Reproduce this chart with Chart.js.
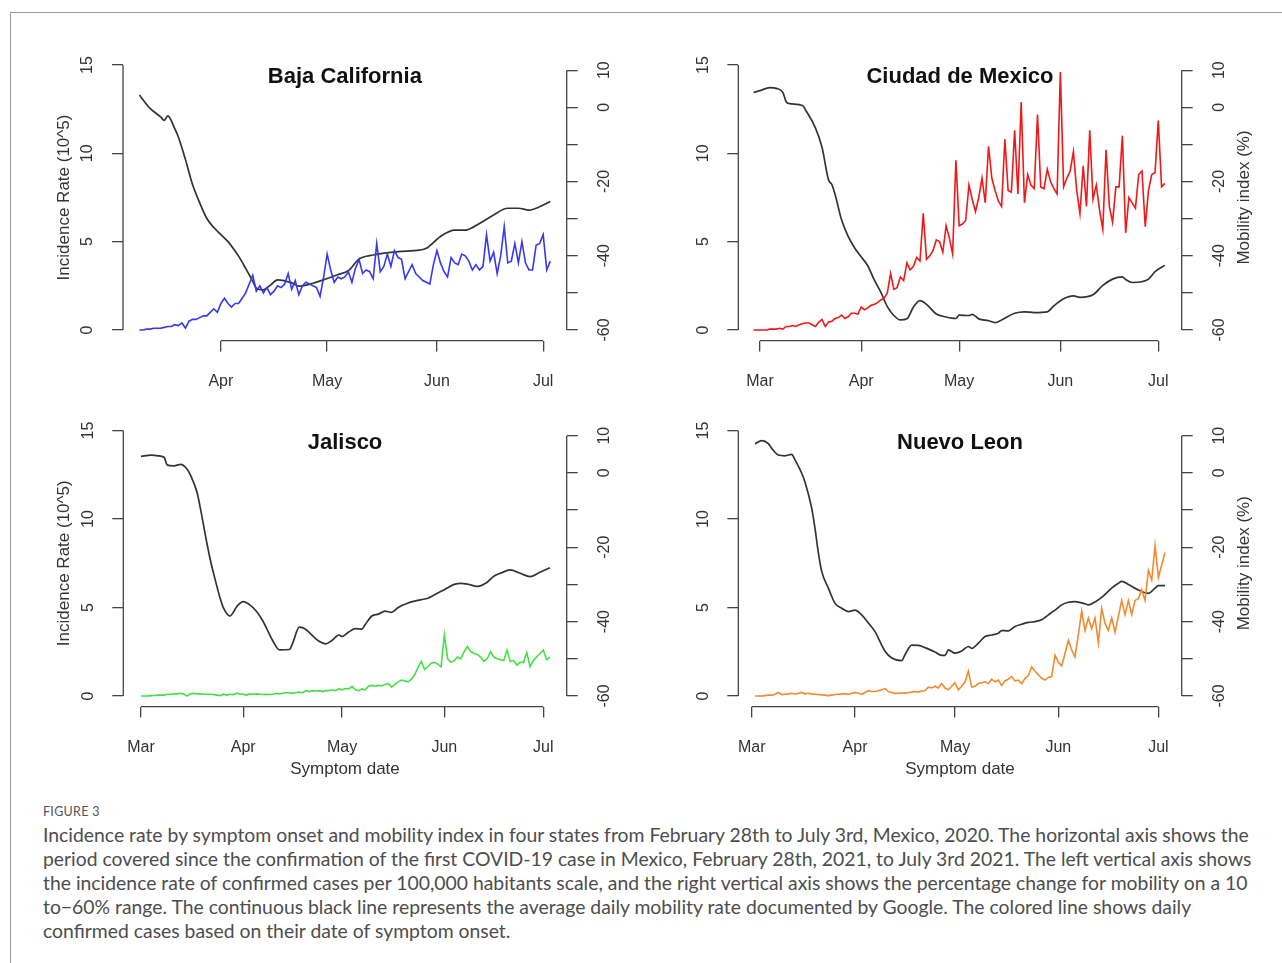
<!DOCTYPE html>
<html>
<head>
<meta charset="utf-8">
<script src="https://cdn.jsdelivr.net/npm/chart.js@4.4.1/dist/chart.umd.min.js"></script>
<style>
  html, body { margin: 0; padding: 0; background: #fff; }
  #page { position: relative; width: 1282px; height: 963px; overflow: hidden; background: #fff; }
  #frame { position: absolute; left: 10px; top: 12px; width: 1300px; height: 990px; border: 1px solid #9a9a9a; }
  canvas { position: absolute; }
  #figlabel { position: absolute; left: 43px; top: 804px; font-family: Lato, "Open Sans", sans-serif;
              font-size: 12.5px; color: #555; letter-spacing: 0.3px; }
  #caption { position: absolute; left: 43px; top: 823px; font-family: Lato, "Open Sans", sans-serif;
             font-size: 16.5px; line-height: 24px; color: #4d4d4d; white-space: nowrap; }
  #caption span { display: inline-block; }
</style>
</head>
<body>
<div id="page">
  <div id="frame"></div>
  <div id="figlabel">FIGURE 3</div>
  <div id="caption">
    <span id="cl1">Incidence rate by symptom onset and mobility index in four states from February 28th to July 3rd, Mexico, 2020. The horizontal axis shows the</span><br>
    <span>period covered since the confirmation of the first COVID-19 case in Mexico, February 28th, 2021, to July 3rd 2021. The left vertical axis shows</span><br>
    <span>the incidence rate of confirmed cases per 100,000 habitants scale, and the right vertical axis shows the percentage change for mobility on a 10</span><br>
    <span>to−60% range. The continuous black line represents the average daily mobility rate documented by Google. The colored line shows daily</span><br>
    <span>confirmed cases based on their date of symptom onset.</span>
  </div>
</div>
<script>
// axis ticks (x = days since 1 March 2020)
const monthTicks = [0, 31, 61, 92, 122];
const monthNames = ['Mar', 'Apr', 'May', 'Jun', 'Jul'];
const incTicks = [0, 5, 10, 15];
const mobTicks = [-60, -50, -40, -30, -20, -10, 0, 10];
const mobLabelTicks = [-60, -40, -20, 0, 10];

// Baja California
const bajaIncStart = 8;
const bajaInc = [
  0.0, 0.0, 0.05, 0.05, 0.1, 0.1, 0.1, 0.15, 0.2, 0.2,
  0.3, 0.25, 0.4, 0.1, 0.5, 0.6, 0.6, 0.7, 0.8, 0.8,
  1.0, 1.2, 1.0, 1.5, 1.8, 1.5, 1.3, 1.5, 1.5, 1.8,
  2.1, 2.6, 3.1, 2.2, 2.5, 2.1, 2.4, 2.0, 2.2, 2.5,
  2.4, 2.6, 3.2, 2.3, 2.8, 2.0, 2.5, 2.7, 2.6, 2.5,
  2.4, 1.9, 3.0, 4.3, 3.4, 2.7, 3.0, 2.9, 3.0, 3.3,
  2.7, 3.5, 4.0, 3.2, 3.4, 3.3, 2.9, 4.9, 3.3, 3.6,
  4.3, 3.6, 4.5, 4.1, 4.0, 2.9, 3.3, 3.7, 3.2, 3.0,
  2.8, 2.7, 2.6, 3.7, 4.5, 3.8, 3.3, 3.0, 4.1, 3.8,
  3.7, 4.3, 4.2, 3.9, 3.4, 3.7, 3.4, 3.6, 5.4, 3.9,
  4.4, 3.2, 4.2, 5.85, 3.8, 3.9, 4.9, 3.8, 5.0, 3.8,
  3.4, 3.4, 4.8, 4.9, 5.4, 3.4, 3.9
];
const bajaMobDays = [8, 11, 14, 15, 16, 18, 19, 21, 23, 25, 27, 29, 31, 33, 35, 36, 38, 40, 41, 43, 45, 47, 51, 53, 57, 60, 64, 67, 70, 74, 81, 87, 89, 93, 97, 100, 104, 108, 112, 115, 118, 121, 124];
const bajaMob = [3.3, -0.3, -2.6, -3.5, -2.3, -5.8, -8.0, -14.1, -20.8, -25.7, -29.9, -32.4, -34.3, -36.2, -38.7, -40.1, -43.4, -46.9, -48.7, -49.2, -47.9, -46.5, -47.3, -48.2, -47.4, -46.5, -45.1, -44.0, -40.9, -39.8, -38.9, -38.5, -38.0, -34.8, -33.1, -33.1, -31.3, -29.0, -27.2, -27.2, -27.7, -26.8, -25.4];

// Ciudad de Mexico
const cdmxIncStart = -2;
const cdmxInc = [
  0, 0, 0, 0, 0, 0.05, 0.05, 0.05, 0.1, 0.05,
  0.2, 0.2, 0.25, 0.2, 0.3, 0.35, 0.4, 0.4, 0.3, 0.2,
  0.45, 0.6, 0.2, 0.45, 0.5, 0.65, 0.7, 0.85, 0.65, 0.75,
  0.95, 0.95, 0.9, 1.3, 1.15, 1.25, 1.4, 1.45, 1.55, 1.7,
  1.8, 2.1, 3.2, 2.3, 2.4, 3.0, 2.8, 3.8, 3.4, 3.6,
  4.1, 3.9, 6.6, 4.0, 4.2, 4.5, 5.1, 5.0, 4.4, 5.9,
  5.2, 4.3, 9.6, 5.9, 6.0, 6.2, 8.2, 7.4, 6.7, 7.5,
  8.6, 7.2, 10.4, 8.6, 7.9, 7.3, 7.0, 10.8, 7.9, 7.8,
  11.3, 7.7, 12.9, 7.2, 8.8, 8.2, 8.0, 12.2, 8.1, 8.0,
  9.1, 8.4, 8.0, 7.7, 14.6, 8.1, 8.6, 9.0, 10.1, 7.9,
  6.6, 9.3, 7.0, 11.3, 7.4, 8.2, 6.8, 5.7, 10.2, 7.0,
  6.1, 8.1, 8.1, 11.0, 5.5, 7.5, 7.2, 6.9, 8.8, 9.0,
  5.85, 7.9, 8.8, 8.9, 11.85, 8.1, 8.3
];
const cdmxMobDays = [-2, 0, 3, 5, 7, 8, 9, 13, 14, 17, 19, 21, 22, 23, 25, 27, 29, 31, 33, 35, 37, 39, 41, 43, 45, 47, 49, 51, 54, 57, 60, 61, 64, 65, 67, 70, 72, 74, 78, 81, 84, 88, 90, 93, 96, 98, 102, 105, 108, 111, 112, 114, 117, 119, 121, 124];
const cdmxMob = [4.0, 4.5, 5.3, 5.1, 4.0, 1.5, 1.0, 0.5, -0.8, -5.6, -10.8, -19.6, -20.8, -23.5, -30.4, -34.8, -37.9, -40.3, -42.7, -46.5, -49.8, -53.7, -56.1, -57.3, -57.0, -53.8, -52.1, -53.1, -55.7, -56.5, -56.9, -56.0, -56.1, -55.8, -57.0, -57.5, -58.0, -57.3, -55.5, -55.1, -55.3, -55.1, -53.5, -51.6, -50.8, -51.2, -50.5, -48.0, -46.3, -45.7, -46.4, -47.2, -47.0, -46.3, -44.3, -42.6];

// Jalisco
const jalIncStart = 0;
const jalInc = [
  0, 0, 0, 0.02, 0.03, 0.05, 0.05, 0.05, 0.1, 0.1,
  0.12, 0.12, 0.15, 0.1, 0.0, 0.12, 0.15, 0.12, 0.12, 0.1,
  0.1, 0.1, 0.08, 0.05, 0.02, 0.1, 0.05, 0.1, 0.08, 0.15,
  0.12, 0.1, 0.05, 0.12, 0.1, 0.12, 0.1, 0.08, 0.1, 0.08,
  0.1, 0.15, 0.12, 0.15, 0.2, 0.18, 0.15, 0.2, 0.22, 0.18,
  0.3, 0.25, 0.3, 0.28, 0.3, 0.25, 0.3, 0.3, 0.35, 0.3,
  0.4, 0.35, 0.42, 0.4, 0.55, 0.35, 0.3, 0.4, 0.35, 0.55,
  0.6, 0.55, 0.6, 0.58, 0.65, 0.7, 0.5, 0.65, 0.8, 0.9,
  0.85, 0.8, 0.95, 1.2, 1.6, 1.95, 1.5, 1.65, 1.85, 1.9,
  1.8, 1.65, 3.45, 2.1, 1.9, 2.0, 2.2, 2.1, 2.5, 2.8,
  2.5, 2.4, 2.35, 2.2, 1.95, 2.1, 2.5, 2.2, 2.1, 2.05,
  2.0, 2.6, 1.95, 2.0, 1.75, 1.9, 1.9, 2.45, 1.65, 2.0,
  2.2, 2.4, 2.6, 2.05, 2.2
];
const jalMobDays = [0, 3, 5, 7, 8, 10, 12, 14, 15, 17, 18, 20, 21, 22, 24, 25, 27, 28, 29, 31, 33, 35, 37, 39, 40, 42, 45, 46, 48, 50, 52, 54, 56, 58, 60, 61, 63, 65, 67, 68, 70, 72, 74, 76, 78, 81, 83, 85, 87, 89, 92, 95, 97, 99, 102, 105, 107, 109, 112, 115, 118, 121, 124];
const jalMob = [4.4, 4.8, 4.6, 4.2, 2.1, 1.9, 2.3, 1.0, -0.6, -5.3, -9.5, -19.0, -23.3, -27.0, -33.7, -36.3, -38.5, -37.5, -36.0, -34.6, -35.5, -37.2, -39.9, -43.5, -45.2, -47.6, -47.5, -45.8, -41.5, -42.1, -43.8, -45.3, -46.0, -45.0, -43.6, -44.0, -42.8, -41.9, -42.0, -40.8, -38.5, -38.0, -37.2, -37.5, -36.2, -35.0, -34.5, -34.1, -33.7, -32.8, -31.4, -30.0, -29.7, -29.9, -30.5, -29.4, -27.8, -27.0, -26.1, -27.0, -27.9, -26.7, -25.5];

// Nuevo Leon
const nlIncStart = 1;
const nlInc = [
  0, 0, 0, 0.02, 0.05, 0.05, 0.1, 0.2, 0.08, 0.1,
  0.12, 0.15, 0.1, 0.15, 0.2, 0.12, 0.15, 0.12, 0.1, 0.08,
  0.06, 0.05, 0.02, 0.05, 0.08, 0.1, 0.12, 0.12, 0.1, 0.15,
  0.2, 0.15, 0.1, 0.2, 0.3, 0.25, 0.25, 0.3, 0.35, 0.42,
  0.25, 0.2, 0.15, 0.15, 0.18, 0.15, 0.2, 0.22, 0.25, 0.22,
  0.28, 0.3, 0.5, 0.45, 0.55, 0.45, 0.7, 0.45, 0.35, 0.55,
  0.75, 0.35, 0.55, 0.8, 1.4, 0.5, 0.55, 0.7, 0.75, 0.8,
  0.7, 0.95, 0.8, 0.9, 0.6, 0.85, 0.95, 1.1, 0.85, 0.9,
  0.7, 1.0, 1.15, 1.65, 1.4, 1.2, 1.0, 0.9, 1.05, 1.1,
  2.3, 1.9, 1.7, 2.4, 3.15, 2.6, 2.2, 3.5, 4.8, 3.7,
  4.4, 3.8, 4.4, 3.0, 4.95, 4.1, 3.7, 4.4, 3.6, 4.5,
  5.4, 4.6, 5.4, 4.6, 5.4, 5.5, 6.0, 5.4, 7.1, 6.55,
  8.5, 6.7, 7.4, 8.1
];
const nlMobDays = [1, 3, 5, 6, 8, 10, 12, 13, 15, 16, 18, 19, 20, 21, 23, 25, 27, 29, 31, 33, 35, 37, 39, 40, 42, 45, 46, 48, 50, 52, 55, 57, 58, 59, 61, 63, 65, 66, 68, 70, 72, 74, 75, 77, 79, 81, 83, 85, 87, 89, 91, 93, 95, 97, 100, 101, 103, 105, 108, 110, 111, 113, 116, 119, 121, 122, 124];
const nlMob = [7.8, 8.7, 7.9, 6.6, 4.8, 4.6, 5.0, 3.5, -0.1, -2.5, -9.5, -15.0, -21.5, -26.5, -31.0, -35.1, -36.4, -37.3, -36.9, -38.2, -40.4, -42.7, -46.3, -48.0, -49.8, -50.5, -48.9, -46.3, -46.4, -47.0, -48.2, -49.1, -49.1, -47.6, -48.5, -47.9, -46.7, -47.2, -45.8, -44.0, -43.6, -43.1, -42.4, -42.5, -41.3, -40.7, -40.2, -40.0, -39.5, -38.2, -36.9, -35.5, -34.8, -34.6, -35.2, -35.5, -34.7, -33.5, -31.0, -29.7, -29.2, -30.0, -31.5, -32.4, -31.0, -30.3, -30.3];

Chart.defaults.font.family = '"Liberation Sans", Arial, sans-serif';

const axisColor = '#444';
const textColor = '#333';
const xAxisBand = 60;   // height reserved for the month labels

// box = canvas [left, top, width, height]; area = plot region [left, top, right, bottom] on the page
const panels = [
  { title: 'Baja California', color: '#3838ee', incStart: bajaIncStart, inc: bajaInc, mobDays: bajaMobDays, mob: bajaMob,
    box: [20, 30, 630, 390], area: [123, 54.4, 566.7, 340.6], xMin: 3.36, xMax: 128.64, leftTitle: true, rightTitle: false, xTitle: false },
  { title: 'Ciudad de Mexico', color: '#f01818', incStart: cdmxIncStart, inc: cdmxInc, mobDays: cdmxMobDays, mob: cdmxMob,
    box: [650, 30, 632, 390], area: [738.3, 54.4, 1181.7, 340.6], xMin: -6.65, xMax: 129.17, leftTitle: false, rightTitle: true, xTitle: false },
  { title: 'Jalisco', color: '#44e044', incStart: jalIncStart, inc: jalInc, mobDays: jalMobDays, mob: jalMob,
    box: [20, 395, 630, 400], area: [123.3, 419.9, 566.7, 706.6], xMin: -5.37, xMax: 129.1, leftTitle: true, rightTitle: false, xTitle: true },
  { title: 'Nuevo Leon', color: '#f28a2e', incStart: nlIncStart, inc: nlInc, mobDays: nlMobDays, mob: nlMob,
    box: [650, 395, 632, 400], area: [738.3, 419.9, 1181.7, 706.6], xMin: -4.02, xMax: 129.0, leftTitle: false, rightTitle: true, xTitle: true }
];

function vText(ctx, txt, x, y) {
  ctx.save();
  ctx.translate(x, y);
  ctx.rotate(-Math.PI / 2);
  ctx.fillText(txt, 0, 0);
  ctx.restore();
}

// R style axes: axis line only between first and last tick, rotated y labels
function makeRAxis(p) {
  return {
    id: 'rAxis',
    afterDraw(chart) {
      const { ctx, chartArea: a, scales } = chart;
      const x = scales.x, yl = scales.y, yr = scales.y2;
      ctx.save();
      ctx.strokeStyle = axisColor;
      ctx.lineWidth = 1.3;
      ctx.beginPath();
      ctx.moveTo(a.left, yl.getPixelForValue(incTicks[0]));
      ctx.lineTo(a.left, yl.getPixelForValue(incTicks[incTicks.length - 1]));
      ctx.moveTo(a.right, yr.getPixelForValue(mobTicks[0]));
      ctx.lineTo(a.right, yr.getPixelForValue(mobTicks[mobTicks.length - 1]));
      const xt = x.ticks.map(t => x.getPixelForValue(t.value));
      ctx.moveTo(xt[0], a.bottom);
      ctx.lineTo(xt[xt.length - 1], a.bottom);
      ctx.stroke();

      ctx.fillStyle = textColor;
      ctx.textAlign = 'center';
      ctx.textBaseline = 'middle';
      ctx.font = '16px "Liberation Sans", Arial, sans-serif';
      incTicks.forEach(v => vText(ctx, String(v), a.left - 35, yl.getPixelForValue(v)));
      mobLabelTicks.forEach(v => vText(ctx, String(v), a.right + 38, yr.getPixelForValue(v)));

      ctx.font = '17px "Liberation Sans", Arial, sans-serif';
      if (p.leftTitle) vText(ctx, 'Incidence Rate (10^5)', a.left - 59, yl.getPixelForValue(7.5));
      if (p.rightTitle) vText(ctx, 'Mobility index (%)', a.right + 63, yl.getPixelForValue(7.5));
      if (p.xTitle) ctx.fillText('Symptom date', (a.left + a.right) / 2, a.bottom + 63);

      ctx.fillStyle = '#111';
      ctx.font = 'bold 22px "Liberation Sans", Arial, sans-serif';
      ctx.fillText(p.title, (a.left + a.right) / 2, a.top + 23);
      ctx.restore();
    }
  };
}

const gridOpts = { drawOnChartArea: false, drawTicks: true, tickLength: 11, color: axisColor, lineWidth: 1.3 };

panels.forEach(p => {
  const [bx, by, bw, bh] = p.box;
  const [l, t, r, b] = p.area;
  const cv = document.createElement('canvas');
  cv.width = bw; cv.height = bh;
  cv.style.left = bx + 'px'; cv.style.top = by + 'px';
  cv.style.width = bw + 'px'; cv.style.height = bh + 'px';
  document.getElementById('page').appendChild(cv);

  const incData = p.inc.map((v, i) => ({ x: p.incStart + i, y: v }));
  const mobData = p.mobDays.map((d, i) => ({ x: d, y: p.mob[i] }));

  new Chart(cv.getContext('2d'), {
    type: 'line',
    data: {
      datasets: [
        { data: incData, yAxisID: 'y', borderColor: p.color, borderWidth: 1.6, pointRadius: 0, tension: 0 },
        { data: mobData, yAxisID: 'y2', borderColor: '#333', borderWidth: 1.7, pointRadius: 0, cubicInterpolationMode: 'monotone' }
      ]
    },
    options: {
      responsive: false,
      animation: false,
      events: [],
      layout: { padding: { left: l - bx, top: t - by, right: bx + bw - r, bottom: by + bh - b - xAxisBand } },
      plugins: { legend: { display: false }, tooltip: { enabled: false } },
      scales: {
        x: {
          type: 'linear', min: p.xMin, max: p.xMax,
          afterBuildTicks: s => { s.ticks = monthTicks.filter(v => v >= s.min && v <= s.max).map(v => ({ value: v })); },
          afterFit: s => { s.height = xAxisBand; },
          grid: gridOpts,
          border: { display: false },
          ticks: {
            autoSkip: false, maxRotation: 0, minRotation: 0, padding: 20, color: textColor,
            font: { size: 16 },
            callback: v => monthNames[monthTicks.indexOf(v)]
          }
        },
        y: {
          position: 'left', min: -0.6, max: 15.6,
          afterBuildTicks: s => { s.ticks = incTicks.map(v => ({ value: v })); },
          afterFit: s => { s.width = 0; },
          grid: gridOpts,
          border: { display: false },
          ticks: { display: false }
        },
        y2: {
          position: 'right', min: -62.86, max: 14.25,
          afterBuildTicks: s => { s.ticks = mobTicks.map(v => ({ value: v })); },
          afterFit: s => { s.width = 0; },
          grid: gridOpts,
          border: { display: false },
          ticks: { display: false }
        }
      }
    },
    plugins: [makeRAxis(p)]
  });
});

// fit caption width to the figure text block
const cl1 = document.getElementById('cl1');
const cap = document.getElementById('caption');
const w1 = cl1.getBoundingClientRect().width;
cap.style.fontSize = (16.5 * 1206 / w1).toFixed(2) + 'px';
</script>
</body>
</html>
